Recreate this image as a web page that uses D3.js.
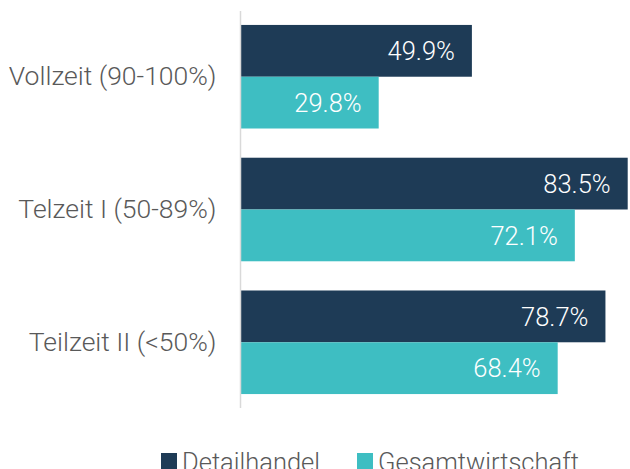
<!DOCTYPE html>
<html>
<head>
<meta charset="utf-8">
<script src="https://cdn.jsdelivr.net/npm/d3@7"></script>
<style>
  html, body { margin: 0; padding: 0; background: #fff; }
  svg { display: block; font-family: Roboto, "Liberation Sans", Arial, sans-serif; font-weight: 300; }
</style>
</head>
<body>
<svg id="chart" width="630" height="469"></svg>
<script>
// Share of employees by workload, retail vs. whole economy
const categories = ["Vollzeit (90-100%)", "Telzeit I (50-89%)", "Teilzeit II (<50%)"];
const seriesNames = ["Detailhandel", "Gesamtwirtschaft"];
const detailhandel = [49.9, 83.5, 78.7];
const gesamtwirtschaft = [29.8, 72.1, 68.4];
const colors = ["#1e3b56", "#3ebec2"];

const seriesValues = [detailhandel, gesamtwirtschaft];
const rows = categories.map((c, i) => ({
  category: c,
  values: seriesNames.map((s, j) => ({ series: s, value: seriesValues[j][i], idx: j }))
}));

const svg = d3.select("#chart");

const x = d3.scaleLinear()
  .domain([0, d3.max(seriesValues.flat())])
  .range([240.5, 627.7]);

const y0 = d3.scaleBand()
  .domain(categories)
  .range([11, 408])
  .paddingInner(0.22)
  .paddingOuter(0.105);

const y1 = d3.scaleBand()
  .domain(seriesNames)
  .range([0, y0.bandwidth()]);

const color = d3.scaleOrdinal().domain(seriesNames).range(colors);

// Bars and value labels
const groups = svg.append("g").selectAll("g")
  .data(rows)
  .join("g")
  .attr("transform", d => `translate(0,${y0(d.category)})`);

groups.selectAll("rect")
  .data(d => d.values)
  .join("rect")
  .attr("x", x(0))
  .attr("y", d => y1(d.series))
  .attr("width", d => x(d.value) - x(0))
  .attr("height", y1.bandwidth())
  .attr("fill", d => color(d.series));

groups.selectAll("text.val")
  .data(d => d.values)
  .join("text")
  .attr("class", "val")
  .attr("x", d => x(d.value) - 17)
  .attr("y", d => y1(d.series) + y1.bandwidth() / 2)
  .attr("dy", "0.36em")
  .attr("text-anchor", "end")
  .attr("fill", "#ffffff")
  .attr("font-size", 25.5)
  .text(d => d.value.toFixed(1) + "%");

// Category axis
const yAxis = d3.axisLeft(y0).tickSize(0).tickPadding(24);
const axisG = svg.append("g")
  .attr("transform", `translate(${x(0)},0)`)
  .call(yAxis)
  .attr("font-family", null)
  .attr("font-size", null);
axisG.select(".domain")
  .attr("d", `M0,11V408`)
  .attr("stroke", "#d9d9d9")
  .attr("stroke-width", 1.5);
axisG.selectAll(".tick text")
  .attr("fill", "#595959")
  .attr("font-size", 26.5);

// Legend
const legendItems = [
  { name: seriesNames[0], x: 161 },
  { name: seriesNames[1], x: 357 }
];
const legend = svg.append("g").selectAll("g")
  .data(legendItems)
  .join("g")
  .attr("transform", d => `translate(${d.x},453)`);
legend.append("rect")
  .attr("width", 16)
  .attr("height", 16)
  .attr("fill", d => color(d.name));
legend.append("text")
  .attr("x", 21)
  .attr("y", 18)
  .attr("fill", "#595959")
  .attr("font-size", 25.5)
  .text(d => d.name);
</script>
</body>
</html>
